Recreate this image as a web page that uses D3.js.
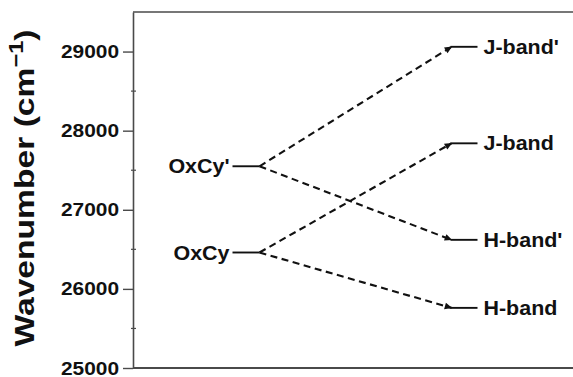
<!DOCTYPE html>
<html>
<head>
<meta charset="utf-8">
<script src="https://cdn.jsdelivr.net/npm/d3@7"></script>
<style>
  html, body { margin: 0; padding: 0; background: #fff; }
  svg { display: block; }
  text { font-family: "Liberation Sans", Arial, Helvetica, sans-serif; font-weight: bold; fill: #111; }
</style>
</head>
<body>
<svg id="chart" width="573" height="377"></svg>
<script>
// Energy levels (cm^-1) of the monomer states and the aggregate bands
const monomerLevels = ["OxCy'", "OxCy"];
const monomerValues = [27550, 26460];
const bandLevels = ["J-band'", "H-band'", "J-band", "H-band"];
const bandValues = [29060, 26620, 27840, 25760];
// Which monomer state each band splits from
const bandSource = ["OxCy'", "OxCy'", "OxCy", "OxCy"];
const columns = ["monomer", "aggregate"];
const yTicks = [25000, 26000, 27000, 28000, 29000];
const yMinorTicks = [25500, 26500, 27500, 28500];
const yDomain = [25000, 29500];

const svg = d3.select("#chart");
const W = 573, H = 377;
const m = { top: 12, right: 0, bottom: 9, left: 133 };
const stretch = 1.1;   // horizontal glyph scale

const y = d3.scaleLinear().domain(yDomain).range([H - m.bottom, m.top]);
const x = d3.scalePoint().domain(columns).range([246, 464]);
const halfLevel = 13.5;

const axisColor = "#4a4a4a";

// frame: top and bottom rules
svg.append("line")
  .attr("x1", m.left).attr("x2", W).attr("y1", y(yDomain[1])).attr("y2", y(yDomain[1]))
  .attr("stroke", axisColor).attr("stroke-width", 1.6);
svg.append("line")
  .attr("x1", m.left).attr("x2", W).attr("y1", y(yDomain[0])).attr("y2", y(yDomain[0]))
  .attr("stroke", axisColor).attr("stroke-width", 1.8);

// left axis with outward major ticks
const yAxis = svg.append("g")
  .attr("transform", `translate(${m.left},0)`)
  .call(d3.axisLeft(y).tickValues(yTicks).tickSize(10).tickSizeOuter(0).tickPadding(4).tickFormat(d3.format("d")));
yAxis.select(".domain").attr("stroke", axisColor).attr("stroke-width", 1.6);
yAxis.selectAll(".tick line").attr("stroke", axisColor).attr("stroke-width", 1.4);
yAxis.selectAll(".tick text")
  .attr("font-size", 19)
  .attr("fill", "#111")
  .attr("font-family", "'Liberation Sans', Arial, sans-serif")
  .attr("font-weight", "bold")
  .each(function () {
    const t = d3.select(this);
    const tx = +t.attr("x");
    t.attr("x", null).attr("transform", `translate(${tx},0) scale(${stretch},1)`);
  });

// minor ticks straddling the axis
svg.append("g").selectAll("line").data(yMinorTicks).join("line")
  .attr("x1", m.left - 2).attr("x2", m.left + 3)
  .attr("y1", d => y(d)).attr("y2", d => y(d))
  .attr("stroke", axisColor).attr("stroke-width", 1.2);

// axis title
svg.append("text")
  .attr("transform", `translate(34,188) rotate(-90) scale(1.18,1)`)
  .attr("text-anchor", "middle")
  .attr("font-size", 28.5)
  .call(t => {
    t.append("tspan").text("Wavenumber (cm");
    t.append("tspan").attr("font-size", 20).attr("dy", -11).text("\u22121");
    t.append("tspan").attr("dy", 11).text(")");
  });

// arrowhead
svg.append("defs").append("marker")
  .attr("id", "arrow")
  .attr("viewBox", "0 0 10 10")
  .attr("refX", 9).attr("refY", 5)
  .attr("markerUnits", "userSpaceOnUse")
  .attr("markerWidth", 9).attr("markerHeight", 7.5)
  .attr("orient", "auto")
  .append("path").attr("d", "M0,0.5 L10,5 L0,9.5 Z").attr("fill", "#111");

const monomerY = new Map(monomerLevels.map((k, i) => [k, monomerValues[i]]));

// dashed transitions
svg.append("g").selectAll("line").data(bandLevels).join("line")
  .attr("x1", (d, i) => x("monomer") + halfLevel)
  .attr("y1", (d, i) => y(monomerY.get(bandSource[i])))
  .attr("x2", x("aggregate") - halfLevel + 1)
  .attr("y2", (d, i) => y(bandValues[i]))
  .attr("stroke", "#111").attr("stroke-width", 2.1)
  .attr("stroke-dasharray", "7,4.5")
  .attr("marker-end", "url(#arrow)");

// level bars
svg.append("g").selectAll("line").data(monomerLevels).join("line")
  .attr("x1", x("monomer") - halfLevel).attr("x2", x("monomer") + halfLevel)
  .attr("y1", (d, i) => y(monomerValues[i])).attr("y2", (d, i) => y(monomerValues[i]))
  .attr("stroke", "#111").attr("stroke-width", 1.9);
svg.append("g").selectAll("line").data(bandLevels).join("line")
  .attr("x1", x("aggregate") - halfLevel).attr("x2", x("aggregate") + halfLevel)
  .attr("y1", (d, i) => y(bandValues[i])).attr("y2", (d, i) => y(bandValues[i]))
  .attr("stroke", "#111").attr("stroke-width", 1.9);

// level labels
svg.append("g").selectAll("text").data(monomerLevels).join("text")
  .attr("transform", (d, i) => `translate(${x("monomer") - halfLevel - 3},${y(monomerValues[i])}) scale(${stretch},1)`)
  .attr("dy", "0.36em")
  .attr("text-anchor", "end")
  .attr("font-size", 19.5)
  .text(d => d);
svg.append("g").selectAll("text").data(bandLevels).join("text")
  .attr("transform", (d, i) => `translate(${x("aggregate") + halfLevel + 6},${y(bandValues[i])}) scale(${stretch},1)`)
  .attr("dy", "0.36em")
  .attr("text-anchor", "start")
  .attr("font-size", 19.5)
  .text(d => d);
</script>
</body>
</html>
